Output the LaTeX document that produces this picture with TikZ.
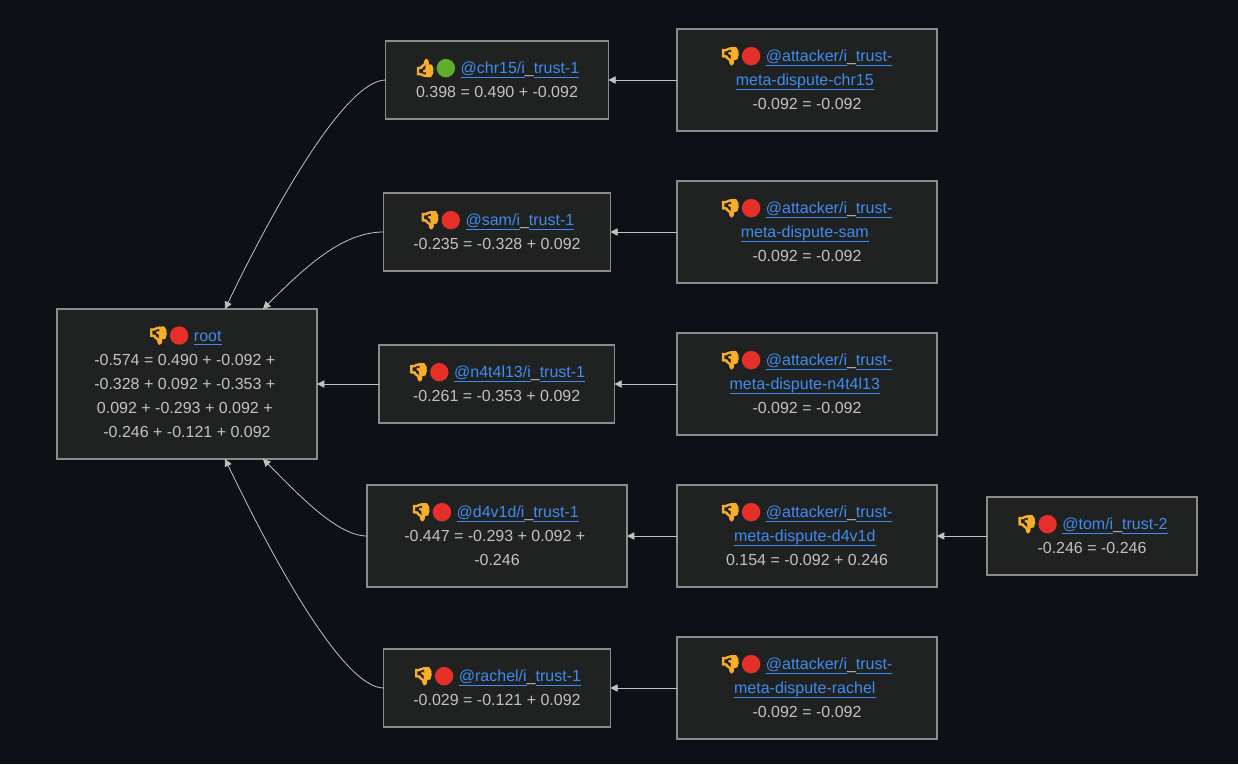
\documentclass[tikz,border=0pt]{standalone}
\usepackage{fontspec}
\setmainfont{Liberation Sans}
\newfontfamily\emojifont[FakeBold=11,Scale=1.02]{Noto Emoji}
\usepackage{xcolor}
\usetikzlibrary{arrows.meta, positioning}
\definecolor{pagebg}{HTML}{0D1117}
\definecolor{boxbg}{HTML}{202221}
\definecolor{boxline}{HTML}{8C8C8C}
\definecolor{linkblue}{HTML}{3F8CF0}
\definecolor{valtext}{HTML}{C2C2C2}
\definecolor{thumbcol}{HTML}{F9AE2B}
\definecolor{reddot}{HTML}{E5302A}
\definecolor{greendot}{HTML}{5FAD2C}
\newcommand{\lnk}[1]{{\color{linkblue}\setbox0\hbox{#1}\rlap{\rule[-3pt]{\wd0}{0.75pt}}\box0}}
\newcommand{\downvote}{\smash{\emojifont\textcolor{thumbcol}{^^^^^1f44e}\textcolor{reddot}{^^^^^1f534}}}
\newcommand{\upvote}{\smash{\emojifont\textcolor{thumbcol}{^^^^^1f44d}\textcolor{greendot}{^^^^^1f7e2}}}
\newcommand{\tsp}{\kern3.3pt}
\newcommand{\tsq}{\kern1.2pt}

\begin{document}
\begin{tikzpicture}[
    x=0.75pt, y=-0.75pt,
    font=\fontsize{12}{18}\selectfont,
    box/.style={draw=boxline, line width=0.9pt, fill=boxbg, text=valtext, align=center, inner sep=0pt, outer sep=0pt, minimum width=195pt, minimum height=76.5pt},
    userbox/.style={box, minimum height=58.5pt},
    wire/.style={draw=valtext, line width=0.6pt, -{Triangle[length=5.5pt,width=5.5pt]}}
]
    \fill[pagebg] (0,0) rectangle (1238,764);

    % attacker column
    \node[box] (attChr) at (807,80) {\downvote{} \lnk{@attacker/i}\_\lnk{trust-}\tsq\\\lnk{meta-dispute-chr15}\tsp\\-0.092 = -0.092};
    \node[box, below=37.5pt of attChr] (attSam) {\downvote{} \lnk{@attacker/i}\_\lnk{trust-}\tsq\\\lnk{meta-dispute-sam}\tsp\\-0.092 = -0.092};
    \node[box, below=37.5pt of attSam] (attNat) {\downvote{} \lnk{@attacker/i}\_\lnk{trust-}\tsq\\\lnk{meta-dispute-n4t4l13}\tsp\\-0.092 = -0.092};
    \node[box, below=37.5pt of attNat] (attDav) {\downvote{} \lnk{@attacker/i}\_\lnk{trust-}\tsq\\\lnk{meta-dispute-d4v1d}\tsp\\0.154 = -0.092 + 0.246};
    \node[box, below=37.5pt of attDav] (attRac) {\downvote{} \lnk{@attacker/i}\_\lnk{trust-}\tsq\\\lnk{meta-dispute-rachel}\tsp\\-0.092 = -0.092};

    % user column
    \node[userbox, minimum width=167pt, left=51.5pt of attChr] (chr) {\upvote{} \lnk{@chr15/i}\_\lnk{trust-1}\\0.398 = 0.490 + -0.092};
    \node[userbox, minimum width=170pt, left=50pt of attSam] (sam) {\downvote{} \lnk{@sam/i}\_\lnk{trust-1}\\-0.235 = -0.328 + 0.092};
    \node[userbox, minimum width=176.5pt, left=47pt of attNat] (nat) {\downvote{} \lnk{@n4t4l13/i}\_\lnk{trust-1}\\-0.261 = -0.353 + 0.092};
    \node[box, left=37.5pt of attDav] (dav) {\downvote{} \lnk{@d4v1d/i}\_\lnk{trust-1}\tsp\\-0.447 = -0.293 + 0.092 +\tsp\\-0.246};
    \node[userbox, minimum width=170pt, left=50pt of attRac] (rac) {\downvote{} \lnk{@rachel/i}\_\lnk{trust-1}\\-0.029 = -0.121 + 0.092};

    \node[userbox, minimum width=157.5pt, right=37.5pt of attDav] (tom) {\downvote{} \lnk{@tom/i}\_\lnk{trust-2}\\-0.246 = -0.246};

    \node[box, minimum height=112.5pt, left=46.5pt of nat] (root) {\downvote{} \lnk{root}\tsp\\-0.574 = 0.490 + -0.092 +\tsp\\-0.328 + 0.092 + -0.353 +\tsp\\0.092 + -0.293 + 0.092 +\tsp\\-0.246 + -0.121 + 0.092};

    \draw[wire] (attChr) -- (chr);
    \draw[wire] (attSam) -- (sam);
    \draw[wire] (attNat) -- (nat);
    \draw[wire] (attDav) -- (dav);
    \draw[wire] (attRac) -- (rac);
    \draw[wire] (tom) -- (attDav);
    \draw[wire] (nat) -- (root);

    \draw[wire] (chr.west) .. controls +(-40,0) and +(50,-104) .. ([xshift=28.5pt]root.north);
    \draw[wire] (sam.west) .. controls +(-40,0) and +(45,-45) .. ([xshift=57pt]root.north);
    \draw[wire] (dav.west) .. controls +(-30,0) and +(35,35) .. ([xshift=57pt]root.south);
    \draw[wire] (rac.west) .. controls +(-40,0) and +(50,104) .. ([xshift=28.5pt]root.south);
\end{tikzpicture}
\end{document}
